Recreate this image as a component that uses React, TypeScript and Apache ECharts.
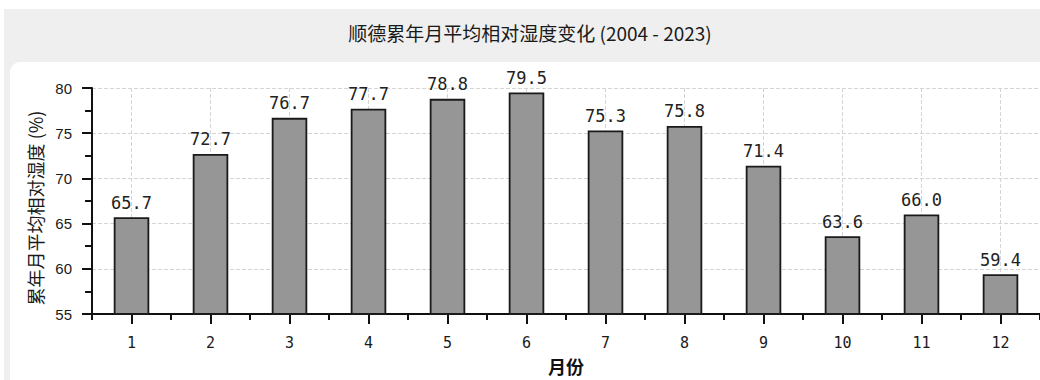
import React, { useEffect, useRef } from "react";
import * as echarts from "echarts";

const months = ["1", "2", "3", "4", "5", "6", "7", "8", "9", "10", "11", "12"];
const humidity = [65.7, 72.7, 76.7, 77.7, 78.8, 79.5, 75.3, 75.8, 71.4, 63.6, 66.0, 59.4];
const titleText = "顺德累年月平均相对湿度变化 (2004 - 2023)";
const yName = "累年月平均相对湿度 (%)";
const xName = "月份";

export default function App() {
  const ref = useRef<HTMLDivElement>(null);
  useEffect(() => {
    if (!ref.current) return;
    const chart = echarts.init(ref.current, null, { renderer: "svg" });
    const axisColor = "#111";
    chart.setOption({
      animation: false,
      backgroundColor: "#ffffff",
      graphic: [
        { type: "rect", z: -10, silent: true, shape: { x: 4, y: 9, width: 1100, height: 400 }, style: { fill: "#efefef" } },
        { type: "rect", z: -9, silent: true, shape: { x: 10, y: 62, width: 1100, height: 400, r: 10 }, style: { fill: "#ffffff" } },
        {
          type: "text",
          x: 530,
          y: 32,
          style: {
            text: titleText,
            fill: "#1a1a1a",
            font: "19px 'Noto Sans CJK SC', sans-serif",
            textAlign: "center",
            textVerticalAlign: "middle",
          },
        },
        {
          type: "text",
          x: 35,
          y: 208,
          rotation: Math.PI / 2,
          style: {
            text: yName,
            fill: "#1a1a1a",
            font: "18px 'Noto Sans CJK SC', sans-serif",
            textAlign: "center",
            textVerticalAlign: "middle",
          },
        },
      ],
      grid: { left: 92, top: 88, width: 952, height: 230, containLabel: false },
      xAxis: [
        {
          type: "category",
          data: months,
          position: "bottom",
          name: xName,
          nameLocation: "middle",
          nameGap: 43,
          nameTextStyle: { fontSize: 18, fontFamily: "'Noto Sans CJK SC', sans-serif", color: "#111", fontWeight: "bold" },
          axisLine: { show: true, lineStyle: { color: axisColor, width: 2 } },
          axisTick: { show: true, alignWithLabel: true, length: 10, lineStyle: { color: axisColor, width: 2 } },
          axisLabel: { color: "#1a1a1a", fontSize: 15, fontFamily: "'DejaVu Sans Mono', monospace", margin: 21 },
          splitLine: { show: true, alignWithLabel: true, lineStyle: { color: "#d4d4d4", type: "dashed", width: 1 } },
        },
        {
          type: "category",
          data: months,
          position: "bottom",
          offset: 0,
          axisLine: { show: false },
          axisTick: { show: true, length: 6, lineStyle: { color: axisColor, width: 2 } },
          axisLabel: { show: false },
          splitLine: { show: false },
        },
      ],
      yAxis: {
        type: "value",
        min: 55,
        max: 80,
        interval: 5,
        axisLine: { show: true, lineStyle: { color: axisColor, width: 2 } },
        axisTick: { show: true, length: 10, lineStyle: { color: axisColor, width: 2 } },
        minorTick: { show: true, splitNumber: 2, length: 7, lineStyle: { color: axisColor, width: 2 } },
        axisLabel: { color: "#1a1a1a", fontSize: 15, fontFamily: "'Liberation Sans', Arial, sans-serif", margin: 20 },
        splitLine: { show: true, lineStyle: { color: "#d4d4d4", type: "dashed", width: 1 } },
      },
      series: [
        {
          type: "bar",
          data: humidity,
          xAxisIndex: 0,
          barWidth: "45%",
          itemStyle: { color: "#969696", borderColor: "#1a1a1a", borderWidth: 1.8 },
          label: {
            show: true,
            position: "top",
            distance: 6,
            formatter: (p: any) => Number(p.value).toFixed(1),
            color: "#222",
            fontSize: 17,
            fontFamily: "'DejaVu Sans Mono', monospace",
          },
        },
      ],
    });
    return () => chart.dispose();
  }, []);
  return <div ref={ref} style={{ position: "fixed", left: 0, top: 0, width: 1040, height: 380 }} />;
}
